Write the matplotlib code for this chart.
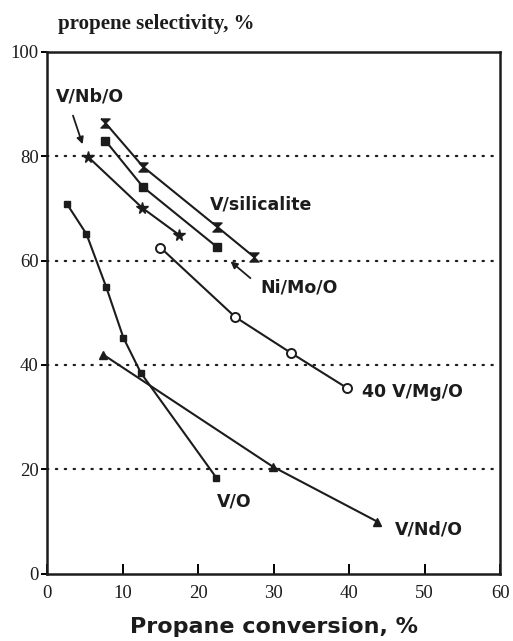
import matplotlib.pyplot as plt
from matplotlib.path import Path

# propane conversion (%) vs propene selectivity (%) for each catalyst
vo_x = [2.6, 5.2, 7.8, 10.1, 12.4, 22.4]
vo_y = [70.9, 65.1, 55.0, 45.2, 38.5, 18.4]

vndo_x = [7.4, 29.9, 43.7]
vndo_y = [42.0, 20.5, 10.0]

vnbo_x = [5.4, 12.6, 17.5]
vnbo_y = [79.9, 70.1, 64.9]

nimoo_x = [7.7, 12.7, 22.5]
nimoo_y = [83.0, 74.1, 62.6]

vsil_x = [7.7, 12.7, 22.5, 27.4]
vsil_y = [86.4, 78.0, 66.5, 60.7]

vmgo_x = [15.0, 24.9, 32.3, 39.7]
vmgo_y = [62.5, 49.2, 42.3, 35.6]

x_ticks = [0, 10, 20, 30, 40, 50, 60]
y_ticks = [0, 20, 40, 60, 80, 100]
grid_levels = [20, 40, 60, 80]

ink = "#1c1c1c"
serif = "Liberation Serif"
sans = "DejaVu Sans"

# hourglass marker for V/silicalite
hourglass = Path([(-1, 1), (1, 1), (0, 0), (1, -1), (-1, -1), (0, 0), (-1, 1)])

fig = plt.figure(figsize=(5.13, 6.41), dpi=100)
ax = fig.add_axes([0.092, 0.105, 0.883, 0.814])

for lv in grid_levels:
    ax.plot([0, 59.3], [lv, lv], color=ink, lw=1.6, ls=(0, (0.6, 3.4)),
            dash_capstyle="round", zorder=1)

lw = 1.5
ax.plot(vo_x, vo_y, color=ink, lw=lw, marker="s", ms=4, zorder=3)
ax.plot(vndo_x, vndo_y, color=ink, lw=lw, marker="^", ms=5.5, zorder=3)
ax.plot(vnbo_x, vnbo_y, color=ink, lw=lw, marker="*", ms=8.5, zorder=3)
ax.plot(nimoo_x, nimoo_y, color=ink, lw=lw, marker="s", ms=6, zorder=3)
ax.plot(vsil_x, vsil_y, color=ink, lw=lw, marker=hourglass, ms=6.5, zorder=3)
ax.plot(vmgo_x, vmgo_y, color=ink, lw=lw, marker="o", ms=6.5,
        mfc="white", mec=ink, mew=1.4, zorder=3)

lab = dict(color=ink, fontsize=12.5, fontweight="bold", family=sans, va="center")
ax.text(1.1, 91.4, "V/Nb/O", **lab)
ax.text(21.6, 70.7, "V/silicalite", **lab)
ax.text(28.2, 54.8, "Ni/Mo/O", **lab)
ax.text(41.7, 34.9, "40 V/Mg/O", **lab)
ax.text(22.5, 13.8, "V/O", **lab)
ax.text(46.1, 8.4, "V/Nd/O", **lab)

arrow = dict(arrowstyle="-|>", color=ink, lw=1.3, mutation_scale=10)
ax.annotate("", xy=(4.8, 81.8), xytext=(3.3, 88.3), arrowprops=arrow)
ax.annotate("", xy=(24.0, 60.2), xytext=(27.2, 56.3), arrowprops=arrow)

ax.set_xlim(0, 60)
ax.set_ylim(0, 100)
ax.set_xticks(x_ticks)
ax.set_yticks(y_ticks)
ax.set_xticklabels([str(v) for v in x_ticks], family=serif, fontsize=13.5, color=ink)
ax.set_yticklabels([str(v) for v in y_ticks], family=serif, fontsize=13.5, color=ink)
ax.tick_params(axis="x", direction="in", length=7, width=1.4, pad=8)
ax.tick_params(axis="y", direction="out", length=4, width=1.4, pad=2)
for s in ax.spines.values():
    s.set_linewidth(1.8)
    s.set_color(ink)

fig.text(0.113, 0.963, "propene selectivity, %", family=serif, fontweight="bold",
         fontsize=15, color=ink, ha="left", va="center")
ax.set_xlabel("Propane conversion, %", family=sans, fontweight="bold",
              fontsize=16, color=ink, labelpad=11)

fig.savefig("out.png", dpi=100, facecolor="white")
